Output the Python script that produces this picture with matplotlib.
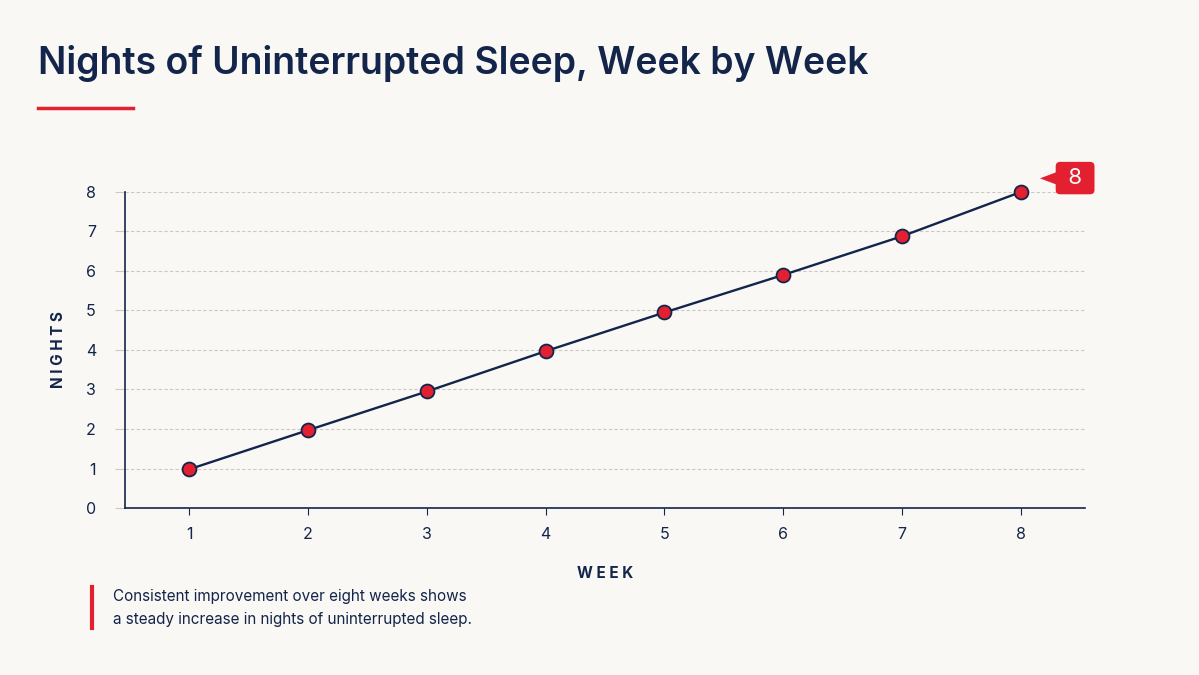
import matplotlib.pyplot as plt
import matplotlib.transforms as mtransforms
from matplotlib.patches import Polygon

weeks = [1, 2, 3, 4, 5, 6, 7, 8]
nights = [0.98, 1.97, 2.95, 3.97, 4.95, 5.9, 6.88, 8]
y_ticks = [0, 1, 2, 3, 4, 5, 6, 7, 8]
last_label = "8"

title = "Nights of Uninterrupted Sleep, Week by Week"
caption = ("Consistent improvement over eight weeks shows\n"
           "a steady increase in nights of uninterrupted sleep.")

navy = "#13254a"
red = "#e3202f"
bg = "#faf8f4"
grid_c = "#c9c9c6"

plt.rcParams['font.family'] = ['Inter', 'DejaVu Sans']

fig = plt.figure(figsize=(11.99, 6.75), dpi=100, facecolor=bg)
ax = fig.add_axes([0.1043, 0.2474, 0.905 - 0.1043, 0.7156 - 0.2474])
ax.set_facecolor(bg)

ax.plot(weeks, nights, color=navy, lw=1.7, zorder=3, clip_on=False,
        marker="o", ms=10, mfc=red, mec=navy, mew=1.3)

ax.set_xlim(0.46, 8.54)
ax.set_ylim(0, 8)
ax.set_xticks(weeks)
ax.set_yticks(y_ticks)
ax.yaxis.grid(True, color=grid_c, lw=0.8, ls=(0, (3, 2)))
ax.set_axisbelow(True)

for s in ["top", "right"]:
    ax.spines[s].set_visible(False)
for s in ["left", "bottom"]:
    ax.spines[s].set_color(navy)
    ax.spines[s].set_linewidth(1.2)

ax.tick_params(axis="y", length=7, color=grid_c, width=0.8, labelsize=11.5,
               labelcolor=navy, pad=14)
ax.tick_params(axis="x", length=5, color=navy, width=0.8, labelsize=11.5,
               labelcolor=navy, pad=9)

ax.set_ylabel("N I G H T S", fontsize=11, fontweight="bold", color=navy, labelpad=14)
ax.set_xlabel("W E E K", fontsize=11, fontweight="bold", color=navy, labelpad=17)

# callout for last value
ax.annotate(" " + last_label + " ", xy=(weeks[-1], nights[-1]), xytext=(39, 10),
            textcoords="offset points", ha="center", va="center",
            fontsize=16, color="white", annotation_clip=False, zorder=5,
            bbox=dict(boxstyle="round,pad=0.28,rounding_size=0.2", fc=red, ec="none"))
# small pointer triangle on the left of the callout, in points from the last point
tri_pts = [(13.7, 9.8), (26.5, 14.6), (26.5, 5.0)]
base = ax.transData.transform((weeks[-1], nights[-1]))
tri = Polygon(tri_pts, closed=True, fc=red, ec="none", clip_on=False, zorder=5,
              transform=mtransforms.Affine2D().scale(fig.dpi / 72).translate(*base))
ax.add_artist(tri)

fig.text(38 / 1199, 1 - 64 / 675, title, fontsize=26.9, fontweight="semibold",
         color=navy, va="center", ha="left")
fig.add_artist(plt.Line2D([38 / 1199, 133 / 1199], [1 - 108 / 675] * 2,
                          color=red, lw=2.5))

fig.add_artist(plt.Line2D([91.5 / 1199] * 2, [1 - 587 / 675, 1 - 628 / 675],
                          color=red, lw=3))
fig.text(113 / 1199, 1 - 608 / 675, caption, fontsize=11, color=navy,
         va="center", ha="left", linespacing=1.6)

fig.savefig("out.png", dpi=100, facecolor=bg)
